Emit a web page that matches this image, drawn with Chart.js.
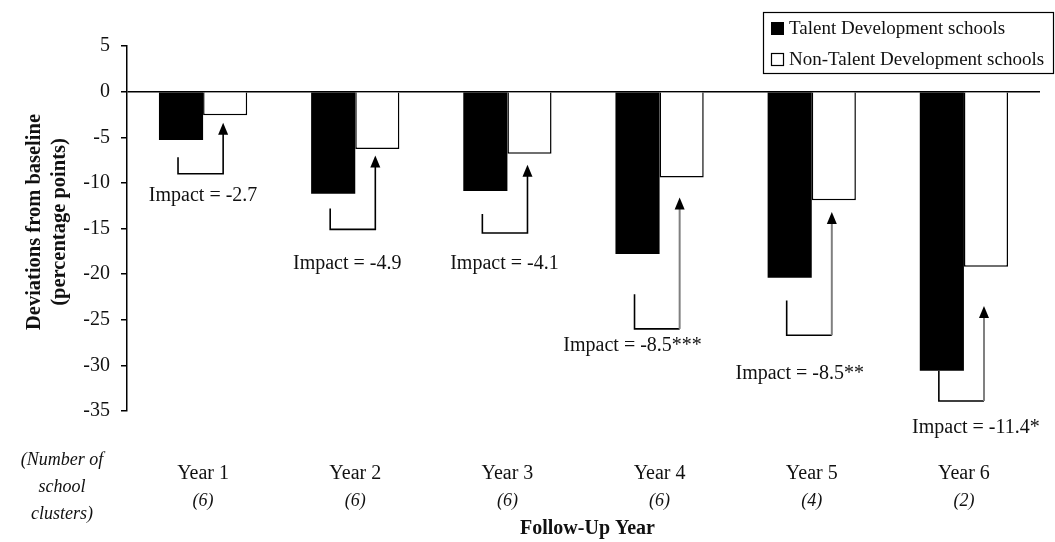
<!DOCTYPE html>
<html>
<head>
<meta charset="UTF-8">
<title>Deviations from baseline</title>
<script src="https://cdn.jsdelivr.net/npm/chart.js@4"></script>
<style>
  body { margin: 0; background: #fff; }
  canvas { display: block; }
</style>
</head>
<body>
<canvas id="myChart" width="1055" height="542"></canvas>
<script>
// data
var years = ['Year 1', 'Year 2', 'Year 3', 'Year 4', 'Year 5', 'Year 6'];
var clusters = ['(6)', '(6)', '(6)', '(6)', '(4)', '(2)'];
var talentDev = [-5.3, -11.2, -10.9, -17.8, -20.4, -30.6];
var nonTalentDev = [-2.6, -6.3, -6.8, -9.4, -11.9, -19.2];
var impacts = ['Impact = -2.7', 'Impact = -4.9', 'Impact = -4.1', 'Impact = -8.5***', 'Impact = -8.5**', 'Impact = -11.4*'];
var yMin = -35, yMax = 5, yStep = 5;

// where the impact brackets sit (axis units), and label nudges (px)
var bracketTop = [-7.2, -12.8, -13.4, -22.2, -22.9, -30.6];
var bracketBottom = [-9.0, -15.1, -15.5, -26.0, -26.7, -33.9];
var arrowTip = [-3.4, -7.0, -8.0, -11.6, -13.2, -23.5];
var labelAt = [-11.4, -18.9, -18.9, -27.8, -30.9, -36.8];
var labelShift = [0, -8, -3, -27, -12, 12];
var grayArrow = [false, false, false, true, true, true];

var SERIF = "'Liberation Serif', 'DejaVu Serif', serif";
var INK = '#111';

var extras = {
    id: 'extras',
    afterDraw: function(chart) {
        var ctx = chart.ctx;
        var x = chart.scales.x, y = chart.scales.y;
        var area = chart.chartArea;
        var black = chart.getDatasetMeta(0).data;
        var white = chart.getDatasetMeta(1).data;
        ctx.save();
        ctx.fillStyle = INK;

        // impact brackets
        for (var i = 0; i < years.length; i++) {
            var lx = black[i].x - 3;
            var rx = white[i].x - 2;
            var top = y.getPixelForValue(bracketTop[i]);
            var bot = y.getPixelForValue(bracketBottom[i]);
            var tip = y.getPixelForValue(arrowTip[i]);
            ctx.lineWidth = 1.6;
            ctx.strokeStyle = '#000';
            ctx.beginPath();
            ctx.moveTo(lx, top);
            ctx.lineTo(lx, bot);
            ctx.lineTo(rx, bot);
            if (!grayArrow[i]) ctx.lineTo(rx, tip + 10);
            ctx.stroke();
            if (grayArrow[i]) {
                ctx.strokeStyle = '#808080';
                ctx.lineWidth = 2;
                ctx.beginPath();
                ctx.moveTo(rx, bot);
                ctx.lineTo(rx, tip + 10);
                ctx.stroke();
            }
            ctx.fillStyle = '#000';
            ctx.beginPath();
            ctx.moveTo(rx, tip);
            ctx.lineTo(rx - 5, tip + 12);
            ctx.lineTo(rx + 5, tip + 12);
            ctx.closePath();
            ctx.fill();

            ctx.fillStyle = INK;
            ctx.font = '20px ' + SERIF;
            ctx.textAlign = 'center';
            ctx.textBaseline = 'middle';
            ctx.fillText(impacts[i], x.getPixelForTick(i) + labelShift[i], y.getPixelForValue(labelAt[i]));

            ctx.font = 'italic 18px ' + SERIF;
            ctx.fillText(clusters[i], x.getPixelForTick(i), 501);
        }

        // left note
        ctx.font = 'italic 18px ' + SERIF;
        ctx.fillText('(Number of', 62, 460);
        ctx.fillText('school', 62, 487);
        ctx.fillText('clusters)', 62, 514);

        // axis titles
        ctx.font = 'bold 20px ' + SERIF;
        ctx.fillText('Follow-Up Year', (area.left + area.right) / 2 + 4, 529);
        ctx.save();
        ctx.translate(35, 222);
        ctx.rotate(-Math.PI / 2);
        ctx.font = 'bold 20.5px ' + SERIF;
        ctx.fillText('Deviations from baseline', 0, 0);
        ctx.fillText('(percentage points)', 0, 25);
        ctx.restore();

        // legend
        ctx.lineWidth = 1.2;
        ctx.strokeStyle = '#000';
        ctx.strokeRect(763.5, 12.5, 290, 61);
        ctx.fillStyle = '#000';
        ctx.fillRect(771, 22, 13, 13);
        ctx.fillStyle = '#fff';
        ctx.fillRect(771, 53, 13, 13);
        ctx.strokeRect(771.5, 53.5, 12, 12);
        ctx.fillStyle = INK;
        ctx.font = '19px ' + SERIF;
        ctx.textAlign = 'left';
        ctx.fillText(chart.data.datasets[0].label, 789, 29);
        ctx.fillText(chart.data.datasets[1].label, 789, 60);
        ctx.restore();
    }
};

var ctx = document.getElementById('myChart').getContext('2d');
var chart = new Chart(ctx, {
    type: 'bar',
    data: {
        labels: years,
        datasets: [{
            label: 'Talent Development schools',
            data: talentDev,
            backgroundColor: '#000',
            borderWidth: 0
        }, {
            label: 'Non-Talent Development schools',
            data: nonTalentDev,
            backgroundColor: '#fff',
            borderColor: '#000',
            borderWidth: 1.5
        }]
    },
    options: {
        responsive: false,
        animation: false,
        categoryPercentage: 0.58,
        barPercentage: 1.0,
        layout: { padding: { top: 46, right: 15, left: 0, bottom: 0 } },
        plugins: {
            legend: { display: false },
            tooltip: { enabled: false }
        },
        scales: {
            x: {
                grid: { display: false, drawTicks: false },
                border: { display: false },
                ticks: { color: INK, font: { family: SERIF, size: 20 }, padding: 51 },
                afterFit: function(s) { s.height = 131; }
            },
            y: {
                min: yMin,
                max: yMax,
                ticks: { stepSize: yStep, color: INK, font: { family: SERIF, size: 20 }, padding: 11 },
                grid: {
                    color: function(c) { return c.tick && c.tick.value === 0 ? '#000' : 'rgba(0,0,0,0)'; },
                    lineWidth: 1.5,
                    tickLength: 6,
                    tickColor: '#000',
                    tickWidth: 1.5
                },
                border: { color: '#000', width: 1.5 },
                afterFit: function(s) { s.width = 127; }
            }
        }
    },
    plugins: [extras]
});
</script>
</body>
</html>
